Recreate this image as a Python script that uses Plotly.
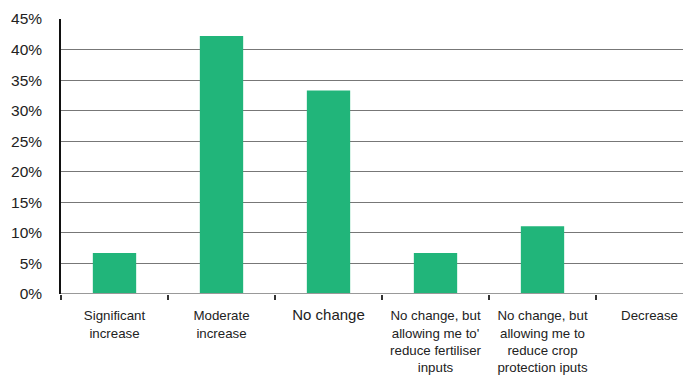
import plotly.graph_objects as go

keys = ["c0", "c1", "c2", "c3", "c4", "c5"]
categories = ["Significant<br>increase", "Moderate<br>increase", "<span style='font-size:15px'>No change</span>",
              "No change, but<br>allowing me to'<br>reduce fertiliser<br>inputs",
              "No change, but<br>allowing me to<br>reduce crop<br>protection iputs", "Decrease"]
values = [6.7, 42.2, 33.3, 6.7, 11.1, 0]
y_ticks = [0, 5, 10, 15, 20, 25, 30, 35, 40, 45]
y_labels = [f"{v}%" for v in y_ticks]

fig = go.Figure(go.Bar(x=keys, y=values, marker=dict(color="#21B57A", line=dict(width=0))))

fig.update_layout(
    width=683, height=378,
    margin=dict(l=61, r=0, t=19, b=84),
    paper_bgcolor="white", plot_bgcolor="white",
    bargap=0.595,
    showlegend=False,
    font=dict(family="Liberation Sans, Arial, Helvetica, sans-serif", color="#222"),
)
fig.update_xaxes(
    type="category", tickmode="array", tickvals=keys, ticktext=categories,
    range=[-0.5, 5.313],
    tickson="boundaries", ticks="outside", ticklen=5, tickcolor="#333", tickwidth=1.5,
    showline=False, showgrid=False, zeroline=False,
    tickfont=dict(size=13.3, color="#222"),
    ticklabelstandoff=12,
)
fig.update_yaxes(
    range=[0, 45], tickmode="array", tickvals=y_ticks, ticktext=y_labels,
    showgrid=True, gridcolor="#777", gridwidth=1,
    showline=True, linecolor="#111", linewidth=1.5,
    zeroline=False,
    tickfont=dict(size=15.5, color="#222"),
    ticks="", ticklabelstandoff=14,
)
fig.add_hline(y=0, line=dict(color="#999", width=2), layer="above")

fig.write_html("out.html")
